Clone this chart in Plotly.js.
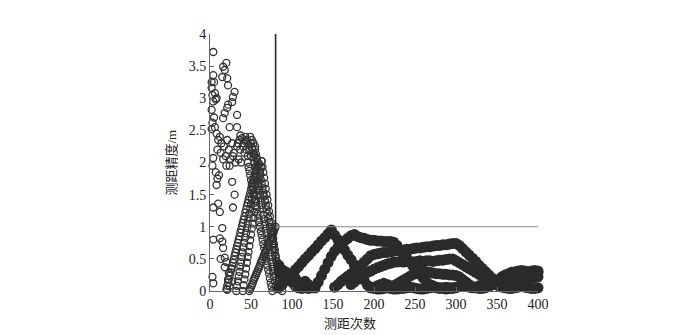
<!DOCTYPE html>
<html>
<head>
<meta charset="utf-8">
<script src="https://cdn.plot.ly/plotly-3.0.1.min.js"></script>
<style>html,body{margin:0;padding:0;background:#fff;}#chart{width:681px;height:335px;}</style>
</head>
<body>
<div id="chart"></div>
<script>
// ---- Data ----
const xTicks = [0, 50, 100, 150, 200, 250, 300, 350, 400];
const yTicks = [0, 0.5, 1, 1.5, 2, 2.5, 3, 3.5, 4];
const xTitle = "测距次数";
const yTitle = "测距精度/m";

// threshold guide lines
const vLineX = [80, 80];
const vLineY = [0, 4];
const hLineX = [80, 400];
const hLineY = [1, 1];

// scattered early measurements (x = ranging count, y = accuracy)
const scatterX = [4,16,20,18,15,21,22,4,2,5,2,3,6,7,4,8,30,28,27,22,21,18,33,16,2,5,3,2,6,24,33,
  8,10,12,14,9,13,17,19,21,23,25,27,29,31,16,20,24,28,33,35,37,39,41,43,45,47,49,51,53,55,42,46,38,36,44,
  4,3,7,9,11,8,27,4,10,12,30,28,15,4,12,15,16,18,18,3,4,23,22,24,21,13,20,26,27,
  40,44,48,52,50,54,57,60,34,37];
const scatterY = [3.72,3.49,3.55,3.44,3.33,3.31,3.2,3.36,3.25,3.25,3.16,3.05,3.08,2.98,2.95,3.0,3.1,3.02,2.94,2.9,2.85,2.77,2.74,2.69,2.82,2.7,2.62,2.52,2.55,2.55,2.55,
  2.45,2.35,2.4,2.3,2.2,2.15,2.25,2.1,2.35,2.2,2.05,2.3,2.15,2.0,2.05,1.95,1.95,2.1,2.25,2.05,2.2,2.38,2.3,2.4,2.35,2.28,2.4,2.35,2.3,2.25,2.15,2.1,2.0,2.35,2.2,
  2.07,1.95,1.85,1.75,1.8,1.65,1.7,1.3,1.36,1.23,1.5,1.3,0.98,0.8,0.82,0.77,0.67,0.52,0.37,0.22,0.12,0.28,0.18,0.08,0.02,0.5,0.45,0.35,0.15,
  2.25,2.32,2.18,2.2,2.1,2.12,2.05,1.98,2.3,2.42];

// early chains, one value per ranging count
const chainA_x0 = 20;
const chainA = [0.03,0.08,0.13,0.18,0.24,0.29,0.34,0.39,0.44,0.49,0.55,0.6,0.65,0.7,0.75,0.8,0.85,0.91,0.96,1.01,1.06,1.11,1.16,1.22,1.27,1.32,1.37,1.42,1.47,1.52,1.58,1.63,1.68,1.73,1.78,1.83,1.88];
const chainB_x0 = 32;
const chainB = [0.0,0.08,0.15,0.23,0.3,0.38,0.45,0.53,0.6,0.68,0.75,0.83,0.9,0.98,1.05,1.13,1.2,1.28,1.35,1.43,1.5,1.58,1.65,1.73,1.8,1.88,1.95];
const chainC_x0 = 40;
const chainC = [0.0,0.09,0.18,0.26,0.35,0.44,0.53,0.61,0.7,0.79,0.88,0.97,1.05,1.14,1.23,1.32,1.4,1.49,1.58,1.67,1.76,1.84,1.93,2.02];
const chainD_x0 = 46;
const chainD = [2.0,1.93,1.87,1.8,1.73,1.67,1.6,1.53,1.47,1.4,1.33,1.27,1.2,1.13,1.07,1.0,0.93,0.87,0.8,0.73,0.67,0.6,0.53,0.47,0.4,0.33,0.27,0.2,0.13,0.07,0.0];
const chainE_x0 = 55;
const chainE = [2.2,2.13,2.07,2.0,1.93,1.87,1.8,1.73,1.67,1.6,1.53,1.47,1.4,1.33,1.27,1.2,1.13,1.07,1.0,0.93,0.87,0.8,0.73,0.67,0.6,0.53,0.47,0.4,0.33,0.27,0.2,0.13,0.07,0.0];
const chainF_x0 = 63;
const chainF = [2.02,1.93,1.85,1.76,1.67,1.59,1.5,1.42,1.33,1.24,1.16,1.07,0.98,0.9,0.81,0.73,0.64,0.55,0.47,0.38,0.3,0.21];
const chainG_x0 = 50;
const chainG = [2.3,2.23,2.15,2.08,2.0,1.93,1.86,1.78,1.71,1.63,1.56,1.49,1.41,1.34,1.27,1.19,1.12,1.04,0.97,0.9,0.82,0.75,0.68,0.6,0.53,0.45,0.38,0.31,0.23,0.16,0.09,0.03];
const chainH_x0 = 48;
const chainH = [0.0,0.03,0.06,0.09,0.12,0.16,0.19,0.22,0.25,0.28,0.31,0.34,0.37,0.4,0.44,0.47,0.5,0.53,0.56,0.59,0.62,0.65,0.69,0.72,0.75,0.78,0.81,0.84,0.87,0.9,0.93,0.97,1.0];

// later tracks, one value every 4 ranging counts
const trackStep = 4;
const trackA_x0 = 84;
const trackA = [0.05,0.1,0.16,0.22,0.27,0.33,0.38,0.44,0.5,0.55,0.61,0.66,0.72,0.78,0.83,0.89,0.95,0.87,0.8,0.72,0.64,0.56,0.49,0.41,0.33,0.25,0.17,0.09,0.05,0.06,0.08,0.1,0.12,0.1,0.08];
const trackB_x0 = 84;
const trackB = [0.4,0.33,0.27,0.2,0.14,0.08,0.05,0.04,0.05,0.04,0.05,0.05,0.14,0.24,0.34,0.44,0.54,0.62,0.68,0.74,0.78,0.82,0.86,0.88,0.85,0.83,0.82,0.8,0.79,0.79,0.78,0.78,0.77,0.77,0.77,0.76,0.71,0.64,0.57,0.51,0.44,0.38,0.32,0.26,0.2,0.14,0.1,0.08,0.06,0.05,0.05,0.06,0.05,0.04,0.05];
const trackC_x0 = 152;
const trackC = [0.06,0.1,0.15,0.19,0.23,0.27,0.31,0.35,0.4,0.45,0.5,0.55,0.57,0.58,0.59,0.6,0.6,0.61,0.62,0.63,0.63,0.64,0.65,0.65,0.66,0.67,0.67,0.68,0.69,0.69,0.7,0.71,0.71,0.72,0.72,0.73,0.74,0.74,0.71,0.66,0.61,0.56,0.51,0.46,0.4,0.35,0.3,0.25,0.2,0.16,0.17,0.19,0.2,0.22,0.23,0.24,0.25,0.26,0.27,0.28,0.28,0.29,0.29];
const trackD_x0 = 172;
const trackD = [0.1,0.14,0.18,0.22,0.25,0.29,0.31,0.34,0.36,0.38,0.4,0.42,0.43,0.45,0.45,0.46,0.45,0.46,0.46,0.45,0.46,0.47,0.46,0.47,0.47,0.46,0.47,0.48,0.48,0.49,0.5,0.5,0.47,0.44,0.41,0.38,0.35,0.32,0.29,0.26,0.23,0.2,0.19,0.17,0.16,0.14,0.13,0.11,0.1,0.1,0.11,0.13,0.15,0.17,0.19,0.2,0.21,0.22];
const trackE_x0 = 196;
const trackE = [0.05,0.04,0.03,0.03,0.04,0.05,0.04,0.03,0.03,0.04,0.04,0.05,0.06,0.05,0.04,0.03,0.03,0.04,0.05,0.06,0.05,0.04,0.04,0.03,0.04,0.05,0.06,0.07,0.08,0.07,0.06,0.05,0.06,0.08,0.1,0.12,0.13,0.12,0.1,0.08,0.06,0.05,0.04,0.04,0.05,0.06,0.07,0.06,0.05,0.04,0.04,0.05];
const trackF_x0 = 220;
const trackF = [0.05,0.08,0.11,0.14,0.17,0.2,0.23,0.26,0.28,0.3,0.31,0.3,0.29,0.28,0.27,0.27,0.26,0.26,0.25,0.25,0.24,0.22,0.18,0.14,0.1,0.07,0.05,0.04,0.04,0.05,0.07,0.1,0.14,0.18,0.22,0.25,0.27,0.29,0.3,0.31,0.32,0.31,0.3,0.31,0.32,0.31];
const trackG_x0 = 84;
const trackG = [0.3,0.25,0.3,0.22,0.18,0.2,0.14,0.1,0.15,0.1,0.06,0.05];

// ---- Build traces ----
function counts(x0, step, n) { return Array.from({length: n}, (_, i) => x0 + i * step); }

const openMarker = {symbol: 'circle-open', size: 7, color: '#333', line: {width: 1.3, color: '#333'}};
const bandMarker = {symbol: 'circle', size: 11, color: '#2b2b2b', line: {width: 0}};

const traces = [];
traces.push({type: 'scatter', mode: 'markers', x: scatterX, y: scatterY, marker: openMarker, cliponaxis: false, hoverinfo: 'skip'});
[[chainA_x0, chainA], [chainB_x0, chainB], [chainC_x0, chainC], [chainD_x0, chainD], [chainE_x0, chainE], [chainF_x0, chainF], [chainG_x0, chainG], [chainH_x0, chainH]].forEach(([x0, ys]) => {
  traces.push({type: 'scatter', mode: 'markers', x: counts(x0, 1, ys.length), y: ys, marker: openMarker, cliponaxis: false, hoverinfo: 'skip'});
});
[[trackA_x0, trackA], [trackB_x0, trackB], [trackC_x0, trackC], [trackD_x0, trackD], [trackE_x0, trackE], [trackF_x0, trackF], [trackG_x0, trackG]].forEach(([x0, ys]) => {
  traces.push({type: 'scatter', mode: 'markers', x: counts(x0, trackStep, ys.length), y: ys, marker: bandMarker, cliponaxis: false, hoverinfo: 'skip'});
});
traces.push({type: 'scatter', mode: 'lines', x: vLineX, y: vLineY, line: {color: '#2a2a2a', width: 1.6}, hoverinfo: 'skip'});
traces.push({type: 'scatter', mode: 'lines', x: hLineX, y: hLineY, line: {color: '#8a8a8a', width: 1.2}, hoverinfo: 'skip'});

const tickFont = {family: 'Liberation Serif, Times New Roman, serif', size: 14, color: '#222'};
const titleFont = {family: 'Liberation Serif, Noto Sans CJK SC, serif', size: 13, color: '#222'};

const layout = {
  width: 681, height: 335,
  margin: {l: 210, r: 143, t: 34, b: 44, pad: 0},
  paper_bgcolor: '#fff', plot_bgcolor: '#fff',
  showlegend: false,
  xaxis: {range: [0, 400], tickvals: xTicks, ticks: 'inside', ticklen: 4, tickcolor: '#666',
          showline: true, linecolor: '#666', linewidth: 1, showgrid: false, zeroline: false,
          tickfont: tickFont, fixedrange: true},
  yaxis: {range: [0, 4], tickvals: yTicks, ticks: 'inside', ticklen: 4, tickcolor: '#666',
          showline: true, linecolor: '#666', linewidth: 1, showgrid: false, zeroline: false,
          tickfont: tickFont, fixedrange: true},
  annotations: [
    {text: xTitle, xref: 'paper', yref: 'paper', x: 0.427, y: 0, xanchor: 'center', yanchor: 'middle', yshift: -32, showarrow: false, font: titleFont},
    {text: yTitle, xref: 'paper', yref: 'paper', x: 0, y: 0.5, xanchor: 'center', yanchor: 'middle', xshift: -39, textangle: -90, showarrow: false, font: titleFont}
  ]
};

Plotly.newPlot('chart', traces, layout, {staticPlot: true, displayModeBar: false});
</script>
</body>
</html>
